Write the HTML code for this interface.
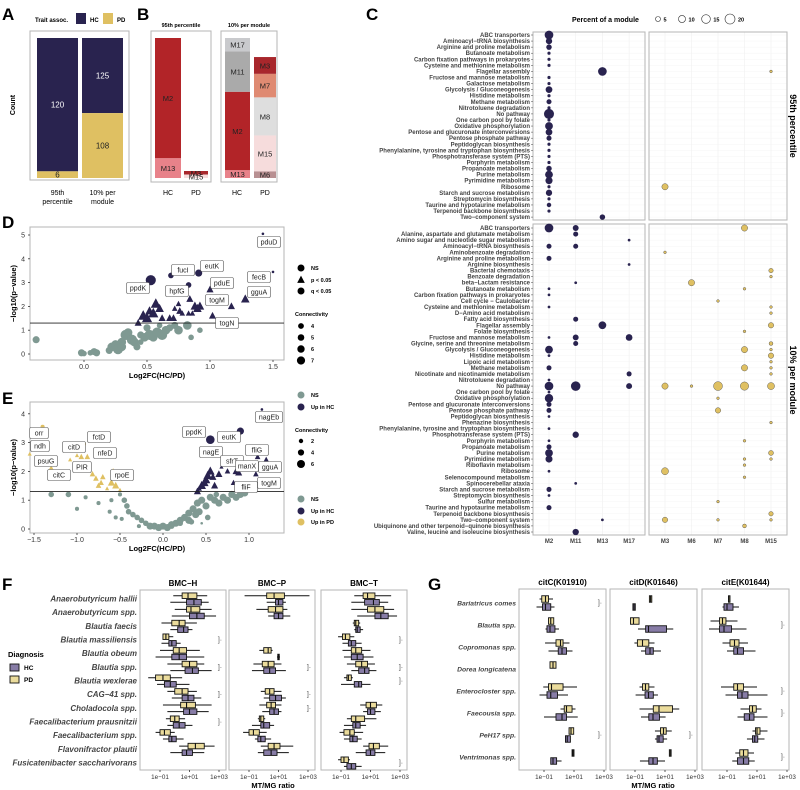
<!DOCTYPE html>
<html><head><meta charset="utf-8">
<style>
html,body{margin:0;padding:0;background:#fff;}
svg{display:block;font-family:"Liberation Sans",Arial,sans-serif;}
</style></head>
<body>
<svg id="chart" width="800" height="790" viewBox="0 0 800 790" xmlns="http://www.w3.org/2000/svg"></svg>
<script>
// ---------- DATA ----------
const aCategories=['95th|percentile','10% per|module'];
const aHC=[120,125];
const aPD=[6,108];

const b95HCseg=['M13','M2'];const b95HCval=[17,103];
const b95PDseg=['M15','M3'];const b95PDval=[3,3];
const b10HCseg=['M13','M2','M11','M17'];const b10HCval=[7,70,36,12];
const b10PDseg=['M6','M15','M8','M7','M3'];const b10PDval=[6,32,34,21,15];

const cTopRows=['ABC transporters','Aminoacyl\u2212tRNA biosynthesis','Arginine and proline metabolism','Butanoate metabolism','Carbon fixation pathways in prokaryotes','Cysteine and methionine metabolism','Flagellar assembly','Fructose and mannose metabolism','Galactose metabolism','Glycolysis / Gluconeogenesis','Histidine metabolism','Methane metabolism','Nitrotoluene degradation','No pathway','One carbon pool by folate','Oxidative phosphorylation','Pentose and glucuronate interconversions','Pentose phosphate pathway','Peptidoglycan biosynthesis','Phenylalanine, tyrosine and tryptophan biosynthesis','Phosphotransferase system (PTS)','Porphyrin metabolism','Propanoate metabolism','Purine metabolism','Pyrimidine metabolism','Ribosome','Starch and sucrose metabolism','Streptomycin biosynthesis','Taurine and hypotaurine metabolism','Terpenoid backbone biosynthesis','Two\u2212component system'];
const cBotRows=['ABC transporters','Alanine, aspartate and glutamate metabolism','Amino sugar and nucleotide sugar metabolism','Aminoacyl\u2212tRNA biosynthesis','Aminobenzoate degradation','Arginine and proline metabolism','Arginine biosynthesis','Bacterial chemotaxis','Benzoate degradation','beta\u2212Lactam resistance','Butanoate metabolism','Carbon fixation pathways in prokaryotes','Cell cycle \u2212 Caulobacter','Cysteine and methionine metabolism','D\u2212Amino acid metabolism','Fatty acid biosynthesis','Flagellar assembly','Folate biosynthesis','Fructose and mannose metabolism','Glycine, serine and threonine metabolism','Glycolysis / Gluconeogenesis','Histidine metabolism','Lipoic acid metabolism','Methane metabolism','Nicotinate and nicotinamide metabolism','Nitrotoluene degradation','No pathway','One carbon pool by folate','Oxidative phosphorylation','Pentose and glucuronate interconversions','Pentose phosphate pathway','Peptidoglycan biosynthesis','Phenazine biosynthesis','Phenylalanine, tyrosine and tryptophan biosynthesis','Phosphotransferase system (PTS)','Porphyrin metabolism','Propanoate metabolism','Purine metabolism','Pyrimidine metabolism','Riboflavin metabolism','Ribosome','Selenocompound metabolism','Spinocerebellar ataxia','Starch and sucrose metabolism','Streptomycin biosynthesis','Sulfur metabolism','Taurine and hypotaurine metabolism','Terpenoid backbone biosynthesis','Two\u2212component system','Ubiquinone and other terpenoid\u2212quinone biosynthesis','Valine, leucine and isoleucine biosynthesis'];
const cHCcols=['M2','M11','M13','M17'];
const cPDcols=['M3','M6','M7','M8','M15'];
const cTopHC=[[0,0,15],[1,0,8],[2,0,6],[3,0,2],[4,0,2],[5,0,2],[6,2,15],[7,0,2],[8,0,2],[9,0,9],[10,0,2],[11,0,5],[12,0,2],[13,0,20],[14,0,2],[15,0,12],[16,0,9],[17,0,5],[18,0,2],[19,0,2],[20,0,2],[21,0,2],[22,0,6],[23,0,12],[24,0,10],[25,0,2],[26,0,8],[27,0,2],[28,0,4],[29,0,2],[30,2,6]];
const cTopPD=[[6,4,1.5],[25,0,8]];
const cBotHC=[[0,0,15],[0,1,7],[1,1,5],[2,3,1.5],[3,0,5],[3,1,5],[5,0,5],[6,3,1.5],[9,1,1.5],[10,0,1.5],[11,0,1.5],[13,0,1.5],[15,1,5],[16,2,12],[18,0,1.5],[18,1,7],[18,3,9],[19,1,5],[20,0,12],[21,0,1.5],[23,0,5],[24,3,5],[25,0,1.5],[26,0,15],[26,1,18],[26,3,7],[27,0,1.5],[28,0,14],[29,0,5],[30,0,5],[31,0,1.5],[33,0,1.5],[34,1,8],[35,0,1.5],[36,0,5],[37,0,12],[38,0,10],[40,0,1.5],[42,1,1.5],[43,0,5],[44,0,1.5],[46,0,5],[48,2,1.5],[50,1,8]];
const cBotPD=[[0,3,8],[4,0,1.5],[7,4,4],[8,4,1.5],[9,1,8],[10,3,1.5],[12,2,1.5],[13,4,1.5],[14,4,1.5],[16,4,6],[17,3,1.5],[19,4,3],[20,3,8],[20,4,1.5],[21,4,6],[22,4,1.5],[23,3,8],[23,4,1.5],[24,4,1.5],[26,0,8],[26,1,1.5],[26,2,16],[26,3,14],[26,4,10],[28,2,1.5],[30,2,6],[32,4,1.5],[35,3,1.5],[37,4,5],[38,3,1.5],[38,4,1.5],[39,3,1.5],[40,0,10],[41,3,1.5],[45,2,1.5],[47,4,4],[48,0,6],[48,2,1.5],[48,4,1.5],[49,3,3]];

// D: x=log2FC, y=-log10 p, size=connectivity
const dNSx=[-0.38,-0.02,0.0,0.05,0.08,0.1,0.22,0.25,0.27,0.3,0.33,0.35,0.38,0.4,0.42,0.45,0.48,0.52,0.55,0.58,0.62,0.65,0.68,0.72,0.75,0.5,0.45,0.3,0.82,0.85,0.92,0.6,0.2];
const dNSy=[0.6,0.05,0.02,0.05,0.1,0.05,0.3,0.4,0.2,0.5,0.8,0.9,0.6,0.5,0.3,0.8,0.7,0.8,0.7,0.9,0.8,1.0,1.1,1.2,1.0,1.1,0.5,0.3,1.2,0.7,1.0,1.2,0.15];
const dNSs=[5,5,4,4,5,5,6,6,7,6,7,6,7,6,5,5,6,7,6,7,7,6,5,5,6,5,4,6,6,4,4,4,5];
const dPx=[0.43,0.47,0.5,0.52,0.55,0.57,0.6,0.62,0.68,0.71,0.75,0.76,0.78,0.83,0.86,0.88,0.9,0.92,0.84,1.0,1.02,1.17,1.28,0.72];
const dPy=[1.3,1.6,1.5,1.8,1.7,2.1,1.9,1.5,1.5,1.5,2.1,1.8,1.7,1.7,1.7,2.0,1.9,2.0,2.3,2.7,1.6,2.0,2.3,1.9];
const dPs=[5,7,7,6,7,7,6,5,5,5,4,5,4,4,4,6,6,6,5,5,5,5,6,4];
const dQx=[0.53,0.69,0.83,0.91,1.42,1.5];
const dQy=[3.1,3.3,2.9,3.4,5.05,3.45];
const dQs=[7,4,4,5,2,2];
const dTicksX=[0.0,0.5,1.0,1.5];const dTicksY=[0,1,2,3,4,5];

const eNSx=[-1.3,-1.1,-0.9,-1.0,-0.75,-0.62,-0.55,-0.5,-0.45,-0.42,-0.4,-0.35,-0.3,-0.25,-0.2,-0.15,-0.1,-0.05,0,0.05,0.1,0.15,0.2,0.25,0.3,0.35,0.4,0.45,0.5,0.55,0.6,0.65,0.7,0.75,0.8,0.85,0.9,0.42,0.38,0.3,0.2,0.1,0.52,-0.28,0.45,-0.6,0.95,0.62,0.33,-0.48];
const eNSy=[1.2,1.2,1.1,0.7,0.9,0.6,0.4,1.2,1.0,0.8,0.6,0.5,0.4,0.3,0.2,0.1,0.1,0.05,0.1,0.05,0.15,0.2,0.3,0.4,0.55,0.7,0.9,1.0,0.8,1.1,1.0,0.9,1.1,1.0,1.2,1.1,1.2,0.6,0.5,0.3,0.2,0.1,0.4,0.1,0.2,1.0,1.25,1.2,0.25,0.35];
const eNSs=[4,4,3,3,3,3,3,3,4,4,4,4,4,4,4,5,5,5,5,5,5,5,5,5,5,5,5,5,5,5,5,5,5,5,5,5,5,5,5,5,4,4,4,3,2,3,5,4,4,3];
const ePDx=[-1.55,-1.3,-1.22,-1.08,-1.0,-0.95,-0.88,-0.82,-0.78,-0.72,-0.75,-0.6,-0.55,-0.58,-0.65,-1.2,-0.5,-0.7];
const ePDy=[2.6,2.1,1.9,2.4,2.55,2.5,2.5,1.9,1.75,1.6,1.5,1.6,1.5,2.0,1.4,1.9,1.35,1.8];
const ePDs=[3,4,3,3,3,4,4,4,4,4,4,5,5,4,3,3,3,4];
const ePDcx=[-1.4,-0.92];const ePDcy=[3.55,2.95];const ePDcs=[3,3];
const eHCx=[0.4,0.45,0.5,0.55,0.52,0.48,0.58,0.6,0.65,0.68,0.8,0.85,0.88,0.82,1.1,1.2,1.08,0.42,0.75];
const eHCy=[1.3,1.5,1.7,2.0,1.85,1.6,1.8,1.5,1.9,2.15,2.3,2.0,1.95,1.6,2.5,2.4,1.9,1.4,2.0];
const eHCs=[5,6,6,6,6,6,5,5,5,3,3,5,5,4,4,4,4,4,4];
const eHCcx=[0.55,0.9,1.15];const eHCcy=[3.1,3.4,4.15];const eHCcs=[6,5,2];
const eTicksX=[-1.5,-1.0,-0.5,0.0,0.5,1.0];const eTicksY=[0,1,2,3,4];

// F: [lo,q1,med,q3,hi] log10 MT/MG
const fRows=['Anaerobutyricum hallii','Anaerobutyricum spp.','Blautia faecis','Blautia massiliensis','Blautia obeum','Blautia spp.','Blautia wexlerae','CAG\u221241 spp.','Choladocola spp.','Faecalibacterium prausnitzii','Faecalibacterium spp.','Flavonifractor plautii','Fusicatenibacter saccharivorans'];
const fFacets=['BMC\u2212H','BMC\u2212P','BMC\u2212T'];
const fH_PD=[[-0.1,0.5,0.9,1.5,2.2],[0.0,0.8,1.1,1.7,2.5],[-0.9,-0.2,0.3,0.7,1.5],[-0.8,-0.8,-0.6,-0.4,-0.1],[-1.0,-0.1,0.3,0.8,1.7],[-0.5,0.5,1.0,1.5,2.0],[-1.8,-1.3,-0.8,-0.3,0.5],[-0.5,0.0,0.5,0.9,1.5],[-0.8,0.4,0.8,1.4,2.5],[-0.6,-0.3,0.0,0.3,0.7],[-1.3,-1.0,-0.7,-0.3,0.0],[0.3,0.9,1.4,2.0,2.7],null];
const fH_HC=[[-0.3,0.8,1.3,1.8,2.3],[-0.2,1.0,1.5,2.0,2.8],[-0.3,0.2,0.6,0.9,1.2],[-0.9,-0.4,-0.2,0.1,0.4],[-1.3,-0.2,0.3,0.8,2.0],[-0.3,0.7,1.2,1.6,2.5],[-1.2,-0.7,-0.3,0.1,1.0],[-0.2,0.5,0.9,1.3,1.8],[-0.5,0.6,1.0,1.5,2.3],[-0.5,-0.1,0.3,0.7,1.2],[-0.8,-0.4,-0.2,0.1,0.6],[-0.3,0.5,0.8,1.2,2.0],null];
const fP_PD=[[-1.3,0.2,0.7,1.4,3.1],[-0.5,0.3,0.8,1.3,1.6],null,null,[-0.3,0.0,0.3,0.5,0.6],[-0.7,-0.1,0.3,0.7,1.2],null,[-0.2,0.1,0.4,0.7,1.2],[-0.3,0.2,0.5,0.8,1.2],[-0.4,-0.3,-0.2,0.0,0.1],[-1.4,-1.0,-0.7,-0.3,0.2],[-0.2,0.3,0.7,1.1,2.0],null];
const fP_HC=[[0.2,0.8,1.0,1.3,1.5],[0.3,0.7,1.0,1.3,1.8],null,null,[0.9,0.95,1.0,1.05,1.1],[-0.8,0.0,0.4,0.8,1.5],null,[0.0,0.4,0.8,1.2,1.5],[-0.1,0.4,0.7,1.0,1.2],[-0.8,-0.2,0.0,0.4,0.7],[-0.6,-0.4,-0.2,0.1,0.5],[-0.4,0.0,0.5,0.9,1.7],null];
const fT_PD=[[-0.1,0.5,0.8,1.3,2.4],[-0.3,0.8,1.3,1.9,2.6],[-0.2,-0.1,0.0,0.2,0.3],[-1.2,-0.9,-0.7,-0.4,-0.1],[-0.9,-0.3,0.0,0.4,1.0],[-0.6,0.0,0.4,0.8,1.3],[-0.8,-0.6,-0.5,-0.3,-0.2],null,[0.3,0.7,1.0,1.4,1.8],[-0.6,-0.3,0.0,0.6,1.4],[-1.1,-0.8,-0.4,-0.1,0.5],[0.5,0.9,1.2,1.6,2.2],[-1.2,-1.0,-0.8,-0.5,-0.4]];
const fT_HC=[[-0.3,0.6,1.2,1.6,2.2],[0.1,1.3,1.7,2.2,2.8],[-0.1,0.0,0.1,0.3,0.5],[-0.9,-0.5,-0.3,0.0,0.4],[-0.8,-0.3,0.1,0.5,1.2],[-0.3,0.2,0.6,0.9,1.4],[-1.0,-0.1,0.2,0.4,1.0],null,[0.5,0.8,1.0,1.3,1.7],[-0.8,-0.2,0.0,0.3,0.7],[-0.8,-0.4,-0.2,0.1,0.4],[0.0,0.7,1.0,1.3,2.0],[-0.8,-0.6,-0.3,0.0,0.4]];
const fSig=[[3,5,7,9],[5,7,8],[3,5,6,12]];

const gRows=['Bariatricus comes','Blautia spp.','Copromonas spp.','Dorea longicatena','Enterocloster spp.','Faecousia spp.','PeH17 spp.','Ventrimonas spp.'];
const gFacets=['citC(K01910)','citD(K01646)','citE(K01644)'];
const gC_PD=[[-1.3,-1.15,-0.9,-0.7,-0.4],[-0.7,-0.7,-0.55,-0.35,-0.35],[-0.93,-0.2,0.1,0.27,0.7],[-0.6,-0.6,-0.4,-0.2,-0.2],[-1.05,-0.7,-0.5,0.27,1.2],[0.1,0.35,0.5,0.87,1.1],[0.67,0.67,0.8,0.98,0.98],[0.87,0.87,0.93,1.0,1.0]];
const gC_HC=[[-1.5,-1.1,-0.9,-0.55,-0.3],[-0.9,-0.8,-0.6,-0.27,0.0],[-0.7,-0.05,0.2,0.5,0.9],null,[-1.3,-0.8,-0.55,-0.1,0.6],[-1.0,-0.2,0.2,0.5,1.25],[0.43,0.43,0.55,0.76,0.76],[-0.55,-0.55,-0.4,-0.16,0.17]];
const gD_PD=[[-0.04,-0.04,0.04,0.12,0.12],[-1.3,-1.3,-1.1,-0.73,-0.73],[-1.04,-0.84,-0.5,-0.08,0.3],null,[-0.7,-0.5,-0.3,-0.08,0.3],[-0.7,0.22,0.6,1.5,1.95],[0.33,0.7,0.9,1.08,1.45],[1.29,1.29,1.35,1.41,1.41]];
const gD_HC=[[-1.14,-1.14,-1.06,-0.98,-0.98],[-0.8,-0.29,-0.1,1.1,1.55],[-0.6,-0.29,0.0,0.22,0.73],null,[-0.96,-0.33,-0.1,0.22,0.53],[-0.6,-0.08,0.2,0.63,1.04],[0.33,0.47,0.6,0.88,1.14],[-0.67,-0.08,0.2,0.49,1.0]];
const gE_PD=[[-0.9,-0.9,-0.88,-0.85,-0.85],[-2.1,-1.5,-1.3,-1.07,-0.3],[-1.3,-0.8,-0.5,-0.2,0.4],null,[-1.4,-0.55,-0.3,0.1,1.0],[-0.1,0.5,0.7,0.95,1.3],[0.7,0.9,1.0,1.2,1.7],[-0.45,-0.15,0.1,0.4,0.8]];
const gE_HC=[[-1.3,-1.2,-1.0,-0.6,-0.2],[-2.2,-1.5,-1.2,-0.7,0.3],[-1.0,-0.55,-0.3,0.1,0.9],null,[-1.1,-0.3,0.0,0.4,1.7],[-0.3,0.15,0.5,0.8,1.7],[0.33,0.7,0.85,1.05,1.5],[-0.65,-0.3,0.1,0.45,0.85]];
const gSig=[[0,6],[6],[1,4,5,7]];
const logTicks=['1e\u221201','1e+01','1e+03'];const logTickVals=[-1,1,3];

// ---------- HELPERS ----------
const NS='http://www.w3.org/2000/svg';
const svg=document.getElementById('chart');
function mk(tag,attrs,name,parent){
  const el=document.createElementNS(NS,tag);
  for(const k in attrs) el.setAttribute(k,attrs[k]);
  
  
  (parent||svg).appendChild(el);
  return el;
}
function txt(x,y,s,attrs,name){const t=mk('text',Object.assign({x:x,y:y},attrs||{}),name);t.textContent=s;return t;}
function rect(x,y,w,h,fill,name,extra){return mk('rect',Object.assign({x:x,y:y,width:w,height:h,fill:fill},extra||{}),name);}
function frame(x,y,w,h,name){return rect(x,y,w,h,'none',name,{stroke:'#b5b5b5','stroke-width':1});}
function line(x1,y1,x2,y2,name,stroke,sw){return mk('line',{x1:x1,y1:y1,x2:x2,y2:y2,stroke:stroke||'#333','stroke-width':sw||0.8},name);}
function tri(cx,cy,r,fill,name){return mk('path',{d:`M${cx} ${cy-r*1.15}L${cx-r} ${cy+r*0.75}L${cx+r} ${cy+r*0.75}Z`,fill:fill},name);}
const B='font-weight:bold';
const NAVY='#29234f',YEL='#dfc062',GREY='#7f9992';

// ---------- PANEL LETTERS ----------
[['A',2,20],['B',137,20],['C',366,20],['D',2,228],['E',2,404],['F',2,590],['G',428,590]].forEach(p=>{
  txt(p[1],p[2],p[0],{'font-size':17,'font-weight':'bold',fill:'#000'},'panel-label-'+p[0].toLowerCase());
});

// ---------- A ----------
(function(){
  txt(35,22,'Trait assoc.',{'font-size':6,'font-weight':'bold'},'legend-a-title');
  rect(76,13,10,11,NAVY,'legend-a-hc-swatch');txt(90,22,'HC',{'font-size':6,'font-weight':'bold'},'legend-a-hc');
  rect(103,13,10,11,YEL,'legend-a-pd-swatch');txt(117,22,'PD',{'font-size':6,'font-weight':'bold'},'legend-a-pd');
  frame(30,31,99,149,'panel-a-frame');
  const bx=[37,82],bw=41,top=38,H=140;
  txt(15,105,'Count',{'font-size':7,'font-weight':'bold','text-anchor':'middle',transform:'rotate(-90 15 105)'},'y-axis-title-a');
  aCategories.forEach((c,i)=>{
    const tot=aHC[i]+aPD[i];
    const hPD=aPD[i]/tot*H, hHC=aHC[i]/tot*H;
    rect(bx[i],top,bw,hHC,NAVY,'bar-hc-'+i);
    rect(bx[i],top+hHC,bw,hPD,YEL,'bar-pd-'+i);
    txt(bx[i]+bw/2,top+hHC/2+3,String(aHC[i]),{'font-size':8,fill:'#fff','text-anchor':'middle'},'bar-hc-value-'+i);
    txt(bx[i]+bw/2,top+hHC+hPD/2+3,String(aPD[i]),{'font-size':8,fill:'#222','text-anchor':'middle'},'bar-pd-value-'+i);
    const l=c.split('|');
    txt(bx[i]+bw/2,195,l[0],{'font-size':7,'text-anchor':'middle'},'x-label-a-'+i);
    txt(bx[i]+bw/2,204,l[1],{'font-size':7,'text-anchor':'middle'},'x-label-a2-'+i);
  });
})();

// ---------- B ----------
const bColors={M2:'#b22428',M13:'#e8828a',M3:'#a8272c',M15:'#f6dcdc',M17:'#c9cacd',M11:'#aaaaaa',M7:'#df8a72',M8:'#dedede',M6:'#b89092'};
function stack(x,w,segs,vals,max,name){
  let y=178;
  segs.forEach((s,i)=>{
    const h=vals[i]/max*140; y-=h;
    rect(x,y,w,h,bColors[s],name+'-'+s);
    txt(x+w/2,y+h/2+3,s,{'font-size':7.5,'text-anchor':'middle',fill:'#222'},name+'-label-'+s);
  });
}
frame(151,31,60,151,'panel-b95-frame');
txt(181,27,'95th percentile',{'font-size':5.5,'font-weight':'bold','text-anchor':'middle'},'strip-b-95');
stack(155,26,b95HCseg,b95HCval,b95HCval.reduce((a,b)=>a+b),'bar-b95-hc');
stack(184,24,b95PDseg,b95PDval,b95HCval.reduce((a,b)=>a+b),'bar-b95-pd');
frame(221,31,56,151,'panel-b10-frame');
txt(249,27,'10% per module',{'font-size':5.5,'font-weight':'bold','text-anchor':'middle'},'strip-b-10');
const b10max=b10HCval.reduce((a,b)=>a+b);
stack(225,25,b10HCseg,b10HCval,b10max,'bar-b10-hc');
stack(254,22,b10PDseg,b10PDval,b10max,'bar-b10-pd');
[['HC',168],['PD',196],['HC',237],['PD',265]].forEach((p,i)=>txt(p[1],195,p[0],{'font-size':7,'text-anchor':'middle'},'x-label-b-'+i));

// ---------- C ----------
(function(){
  txt(572,22,'Percent of a module',{'font-size':7,'font-weight':'bold'},'legend-c-title');
  [5,10,15,20].forEach((p,i)=>{
    const cx=658+i*24, r=Math.sqrt(p)*1.12;
    mk('circle',{cx:cx,cy:19,r:r,fill:'#fff',stroke:'#333','stroke-width':0.6},'legend-c-size-'+p);
    txt(cx+r+3,21.5,String(p),{'font-size':5.5,'font-weight':'bold'},'legend-c-label-'+p);
  });
  const hcX=i=>549+i*26.7, pdX=i=>665+i*26.5;
  function grid(x0,x1,y0,y1,cols,xf,rows,yf,nm){
    for(let i=0;i<cols;i++) line(xf(i),y0,xf(i),y1,nm+'-vgrid-'+i,'#ececec',0.5);
    for(let i=0;i<rows;i++) line(x0,yf(i),x1,yf(i),nm+'-hgrid-'+i,'#f2f2f2',0.4);
  }
  const topY=i=>35+i*6.07, botY=i=>228+i*6.08;
  grid(533,645,32,220,4,hcX,cTopRows.length,topY,'c-top-hc');
  grid(649,787,32,220,5,pdX,cTopRows.length,topY,'c-top-pd');
  grid(533,645,224,535,4,hcX,cBotRows.length,botY,'c-bot-hc');
  grid(649,787,224,535,5,pdX,cBotRows.length,botY,'c-bot-pd');
  frame(533,32,112,188,'panel-c-top-hc');frame(649,32,138,188,'panel-c-top-pd');
  frame(533,224,112,311,'panel-c-bot-hc');frame(649,224,138,311,'panel-c-bot-pd');
  cTopRows.forEach((r,i)=>{txt(530,topY(i)+2,r,{'font-size':6,'font-weight':'bold',fill:'#444','text-anchor':'end'},'c-top-row-label');line(531,topY(i),533,topY(i),'c-tick','#444',0.5);});
  cBotRows.forEach((r,i)=>{txt(530,botY(i)+2,r,{'font-size':6,'font-weight':'bold',fill:'#444','text-anchor':'end'},'c-bot-row-label');line(531,botY(i),533,botY(i),'c-tick','#444',0.5);});
  const rad=p=>Math.sqrt(p)*1.12;
  cTopHC.forEach(d=>mk('circle',{cx:hcX(d[1]),cy:topY(d[0]),r:rad(d[2]),fill:NAVY},'dot-c-top-hc'));
  cTopPD.forEach(d=>mk('circle',{cx:pdX(d[1]),cy:topY(d[0]),r:rad(d[2]),fill:YEL,stroke:'#444','stroke-width':0.4},'dot-c-top-pd'));
  cBotHC.forEach(d=>mk('circle',{cx:hcX(d[1]),cy:botY(d[0]),r:rad(d[2]),fill:NAVY},'dot-c-bot-hc'));
  cBotPD.forEach(d=>mk('circle',{cx:pdX(d[1]),cy:botY(d[0]),r:rad(d[2]),fill:YEL,stroke:'#444','stroke-width':0.4},'dot-c-bot-pd'));
  cHCcols.forEach((c,i)=>txt(hcX(i),543,c,{'font-size':6,'font-weight':'bold',fill:'#444','text-anchor':'middle'},'c-x-label-'+c));
  cPDcols.forEach((c,i)=>txt(pdX(i),543,c,{'font-size':6,'font-weight':'bold',fill:'#444','text-anchor':'middle'},'c-x-label-'+c));
  txt(790,126,'95th percentile',{'font-size':9,'font-weight':'bold','text-anchor':'middle',transform:'rotate(90 790 126)'},'strip-c-95');
  txt(790,380,'10% per module',{'font-size':9,'font-weight':'bold','text-anchor':'middle',transform:'rotate(90 790 380)'},'strip-c-10');
})();

// ---------- D / E volcano ----------
function sizeR(s){return 1.3+(s-2)*0.75;}
function volcano(o){
  frame(30,o.y0,254,o.y1-o.y0,o.nm+'-frame');
  const X=v=>o.x0+v*o.kx, Y=v=>o.yz-v*o.ky;
  o.tx.forEach(t=>{line(X(t),o.y1,X(t),o.y1+2,o.nm+'-xtick');txt(X(t),o.y1+9,t.toFixed(1).replace('-','\u2212'),{'font-size':7,'text-anchor':'middle',fill:'#333'},o.nm+'-xtick-label');});
  o.ty.forEach(t=>{line(28,Y(t),30,Y(t),o.nm+'-ytick');txt(25,Y(t)+2.5,String(t),{'font-size':7,'text-anchor':'end',fill:'#333'},o.nm+'-ytick-label');});
  txt(157,o.y1+18,'Log2FC(HC/PD)',{'font-size':7.5,'font-weight':'bold','text-anchor':'middle'},o.nm+'-x-title');
  const ym=(o.y0+o.y1)/2;
  txt(16,ym,'\u2212log10(p\u2212value)',{'font-size':7.5,'font-weight':'bold','text-anchor':'middle',transform:`rotate(-90 16 ${ym})`},o.nm+'-y-title');
  o.series.forEach(s=>{
    s.x.forEach((v,i)=>{
      if(s.shape==='tri') tri(X(v),Y(s.y[i]),sizeR(s.s[i]),s.fill,o.nm+'-'+s.name);
      else mk('circle',{cx:X(v),cy:Y(s.y[i]),r:sizeR(s.s[i]),fill:s.fill},o.nm+'-'+s.name);
    });
  });
  line(30,Y(1.3),284,Y(1.3),o.nm+'-threshold','#222',0.9);
  o.labels.forEach(l=>{
    const w=l[0].length*4.2+6;
    rect(l[1]-w/2,l[2]-5.5,w,11,'#fff',o.nm+'-gene-box',{stroke:'#555','stroke-width':0.6,rx:1.5});
    txt(l[1],l[2]+2.5,l[0],{'font-size':7,'text-anchor':'middle',fill:'#222'},o.nm+'-gene-label');
  });
}
volcano({nm:'d',y0:227,y1:360,x0:84,kx:126,yz:354,ky:23.8,tx:dTicksX,ty:dTicksY,
  series:[{x:dNSx,y:dNSy,s:dNSs,fill:GREY,shape:'c',name:'ns'},{x:dPx,y:dPy,s:dPs,fill:NAVY,shape:'tri',name:'p'},{x:dQx,y:dQy,s:dQs,fill:NAVY,shape:'c',name:'q'}],
  labels:[['pduD',269,242],['fucI',183,270],['eutK',212,266],['pduE',222,283],['fecB',259,277],['ppdK',138,288],['hpfG',177,291],['togM',217,300],['gguA',259,292],['togN',227,323]]});
volcano({nm:'e',y0:402,y1:533,x0:163,kx:86,yz:529,ky:28.8,tx:eTicksX,ty:eTicksY,
  series:[{x:eNSx,y:eNSy,s:eNSs,fill:GREY,shape:'c',name:'ns'},{x:ePDx,y:ePDy,s:ePDs,fill:YEL,shape:'tri',name:'pd'},{x:ePDcx,y:ePDcy,s:ePDcs,fill:YEL,shape:'c',name:'pd-q'},{x:eHCx,y:eHCy,s:eHCs,fill:NAVY,shape:'tri',name:'hc'},{x:eHCcx,y:eHCcy,s:eHCcs,fill:NAVY,shape:'c',name:'hc-q'}],
  labels:[['orr',39,433],['ndh',40,446],['citD',74,447],['fctD',99,437],['nfeD',105,453],['psuG',46,461],['PIR',82,467],['citC',59,475],['rpoE',122,475],['ppdK',194,432],['eutK',229,437],['nagEb',269,417],['nagE',211,452],['fliG',257,450],['sfrT',232,461],['manX',247,466],['gguA',270,467],['togM',269,483],['fliF',246,487]]});

// legends D/E
(function(){
  const L=(y,s,name)=>txt(311,y+2,s,{'font-size':5.5,'font-weight':'bold'},name);
  mk('circle',{cx:301,cy:268,r:3.5,fill:'#000'},'legend-d-ns');L(268,'NS','legend-d-ns-label');
  tri(301,280,3.8,'#000','legend-d-p');L(280,'p < 0.05','legend-d-p-label');
  mk('circle',{cx:301,cy:291,r:3.5,fill:'#000'},'legend-d-q');L(291,'q < 0.05','legend-d-q-label');
  txt(295,316,'Connectivity',{'font-size':5.5,'font-weight':'bold'},'legend-d-conn-title');
  [4,5,6,7].forEach((c,i)=>{mk('circle',{cx:301,cy:326+i*11.5,r:1.3+c*0.4,fill:'#000'},'legend-d-conn-'+c);L(326+i*11.5,String(c),'legend-d-conn-label');});
  mk('circle',{cx:301,cy:395,r:3.5,fill:GREY},'legend-e-ns');L(395,'NS','legend-e-ns-label');
  mk('circle',{cx:301,cy:407,r:3.5,fill:NAVY},'legend-e-hc');L(407,'Up in HC','legend-e-hc-label');
  txt(295,432,'Connectivity',{'font-size':5.5,'font-weight':'bold'},'legend-e-conn-title');
  [2,4,6].forEach((c,i)=>{mk('circle',{cx:301,cy:441+i*11.5,r:1.3+c*0.45,fill:'#000'},'legend-e-conn-'+c);L(441+i*11.5,String(c),'legend-e-conn-label');});
  mk('circle',{cx:301,cy:499,r:3.5,fill:GREY},'legend-e2-ns');L(499,'NS','legend-e2-ns-label');
  mk('circle',{cx:301,cy:511,r:3.5,fill:NAVY},'legend-e2-hc');L(511,'Up in HC','legend-e2-hc-label');
  mk('circle',{cx:301,cy:522,r:3.5,fill:YEL},'legend-e2-pd');L(522,'Up in PD','legend-e2-pd-label');
})();

// ---------- Box plots F / G ----------
const PDFILL='#ebdc9c',HCFILL='#877ca6';
function boxes(o){
  o.facets.forEach((f,fi)=>{
    const px=o.px[fi];
    frame(px,o.y0,o.w,o.y1-o.y0,o.nm+'-frame-'+fi);
    txt(px+o.w/2,o.y0-4,f,{'font-size':o.fs,'font-weight':'bold','text-anchor':'middle'},o.nm+'-strip-'+fi);
    const X=v=>px+o.off+(v+1)*o.dec/2;
    logTickVals.forEach((t,ti)=>{line(X(t),o.y1,X(t),o.y1+2,o.nm+'-xtick');txt(X(t),o.y1+9,logTicks[ti],{'font-size':6.3,'text-anchor':'middle',fill:'#333'},o.nm+'-xtick-label');});
    const draw=(d,yc,fill,nm)=>{
      if(!d) return;
      line(X(d[0]),yc,X(d[4]),yc,nm+'-whisker','#111',1);
      rect(X(d[1]),yc-o.bh/2,Math.max(1.5,X(d[3])-X(d[1])),o.bh,fill,nm+'-box',{stroke:'#111','stroke-width':0.9});
      line(X(d[2]),yc-o.bh/2,X(d[2]),yc+o.bh/2,nm+'-median','#111',1.1);
    };
    o.rows.forEach((r,ri)=>{
      const yc=o.ry(ri);
      draw(o.pd[fi][ri],yc-o.gap,PDFILL,o.nm+'-pd');
      draw(o.hc[fi][ri],yc+o.gap,HCFILL,o.nm+'-hc');
    });
    o.sig[fi].forEach(ri=>txt(px+o.w-6,o.ry(ri)+2,']\u00b7',{'font-size':7,fill:'#555','text-anchor':'middle'},o.nm+'-sig'));
  });
  o.rows.forEach((r,ri)=>{
    txt(o.px[0]-3,o.ry(ri)+2.5,r,{'font-size':o.lfs,'font-weight':'bold','font-style':'italic',fill:'#444','text-anchor':'end'},o.nm+'-row-label');
  });
  txt(o.tx,o.y1+18,'MT/MG ratio',{'font-size':7.5,'font-weight':'bold','text-anchor':'middle'},o.nm+'-x-title');
}
boxes({nm:'f',facets:fFacets,px:[140,229,321],w:86,y0:590,y1:770,off:20,dec:29.5,rows:fRows,ry:i=>599+i*13.67,gap:3.3,bh:5.5,
  pd:[fH_PD,fP_PD,fT_PD],hc:[fH_HC,fP_HC,fT_HC],sig:fSig,fs:8,lfs:8,tx:273});
boxes({nm:'g',facets:gFacets,px:[519,610,702],w:87,y0:589,y1:770,off:25,dec:30,rows:gRows,ry:i=>603+i*22,gap:4,bh:6.5,
  pd:[gC_PD,gD_PD,gE_PD],hc:[gC_HC,gD_HC,gE_HC],sig:gSig,fs:8,lfs:6.8,tx:653});
// F legend
txt(8,657,'Diagnosis',{'font-size':7.5,'font-weight':'bold'},'legend-f-title');
rect(10,664,9,7,HCFILL,'legend-f-hc-swatch',{stroke:'#111','stroke-width':0.9});
txt(24,670,'HC',{'font-size':6.5,'font-weight':'bold'},'legend-f-hc');
rect(10,676,9,7,PDFILL,'legend-f-pd-swatch',{stroke:'#111','stroke-width':0.9});
txt(24,682,'PD',{'font-size':6.5,'font-weight':'bold'},'legend-f-pd');
</script>
</body></html>
